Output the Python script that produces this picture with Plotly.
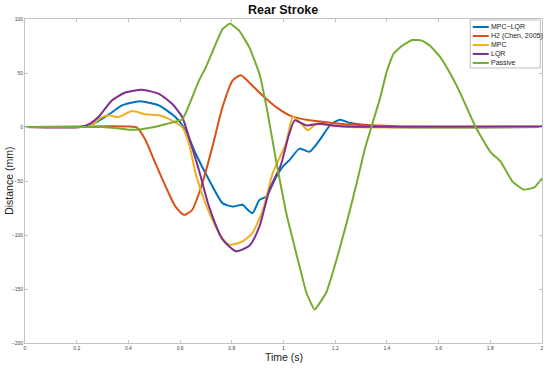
import plotly.graph_objects as go

# ---- data ----
t_mpclqr = [0, 0.2, 0.24, 0.28, 0.323, 0.375, 0.42, 0.453, 0.518, 0.582, 0.621, 0.66, 0.712, 0.764,
            0.803, 0.842, 0.855, 0.88, 0.907, 0.933, 0.972, 1.0, 1.023, 1.062, 1.10, 1.14, 1.18, 1.218,
            1.257, 1.31, 1.4, 2.0]
v_mpclqr = [0, 0, 0.5, 5, 11.4, 20, 23, 23.7, 20, 9.2, -3, -24.5, -49, -70.5,
            -73.7, -72, -75, -79.7, -67.5, -64.5, -46, -36, -30.7, -20, -23, -12, 1.5, 6.8,
            3.7, 2, 0, 0]

t_h2 = [0, 0.4, 0.433, 0.466, 0.505, 0.544, 0.582, 0.615, 0.647, 0.686, 0.725, 0.764, 0.803, 0.835,
        0.868, 0.92, 0.972, 1.023, 1.10, 1.18, 1.257, 1.335, 1.45, 2.0]
v_h2 = [0, 0.5, -0.5, -12, -34, -55, -73.7, -81.3, -76.7, -52, -18.4, 18.4, 43, 48,
        41, 29, 18.4, 10.8, 6.2, 4, 2.2, 1.5, 0.5, 0.3]

t_mpc = [0, 0.22, 0.26, 0.29, 0.323, 0.362, 0.414, 0.466, 0.518, 0.569, 0.608, 0.634, 0.66, 0.7,
         0.725, 0.76, 0.79, 0.842, 0.88, 0.92, 0.958, 1.01, 1.036, 1.065, 1.095, 1.127, 1.18, 1.25, 2.0]
v_mpc = [0, 0, 2, 8, 10.8, 9.2, 14.7, 11.7, 10.8, 6, 0, -15, -43, -72,
         -86, -102, -109, -106, -98, -77, -43, -15, 9.2, 4, -3, 3, 1.5, 0, 0]

t_lqr = [0, 0.213, 0.25, 0.284, 0.336, 0.388, 0.453, 0.518, 0.569, 0.608, 0.634, 0.673, 0.712, 0.764,
         0.816, 0.868, 0.907, 0.946, 0.99, 1.02, 1.043, 1.065, 1.088, 1.14, 1.19, 1.25, 2.0]
v_lqr = [0, 0, 3, 9.2, 24.6, 32, 34.4, 30.7, 21.5, 9.2, -9.2, -40, -73.7, -104,
         -115, -110, -92, -58, -35, -8, 6.2, 4, 1.5, 3, 1.5, 0.5, 0.5]

t_passive = [0, 0.3, 0.35, 0.4, 0.45, 0.5, 0.55, 0.608, 0.621, 0.647, 0.673, 0.699, 0.738, 0.764,
             0.793, 0.829, 0.868, 0.907, 0.939, 0.971, 1.01, 1.062, 1.088, 1.12, 1.166, 1.205, 1.244,
             1.283, 1.315, 1.35, 1.374, 1.40, 1.425, 1.458, 1.497, 1.536, 1.568, 1.607, 1.646, 1.685,
             1.743, 1.80, 1.84, 1.886, 1.929, 1.97, 2.0]
v_passive = [0, 0, -1, -2.5, -2, 0, 3, 7, 12.6, 27.6, 43, 55, 77, 90.6,
             95.8, 89, 73.7, 49, 12.6, -30.7, -79, -129, -153, -169, -153, -123, -89,
             -52, -20, 8, 27, 52, 67.6, 75, 80.5, 80, 75, 64.5, 49, 30.7,
             0, -23, -32, -50.6, -58, -56, -47.5]

x_ticks = [0, 0.2, 0.4, 0.6, 0.8, 1, 1.2, 1.4, 1.6, 1.8, 2]
y_ticks = [-200, -150, -100, -50, 0, 50, 100]

series_names = ["MPC−LQR", "H2 (Chen, 2005)", "MPC", "LQR", "Passive"]
series_t = [t_mpclqr, t_h2, t_mpc, t_lqr, t_passive]
series_v = [v_mpclqr, v_h2, v_mpc, v_lqr, v_passive]
series_colors = ["#0072BD", "#D95319", "#EDB120", "#7E2F8E", "#77AC30"]
series_smooth = [0.6, 0.6, 0.6, 0.6, 0.35]

# ---- page geometry (pixels); body margin is removed by a post script ----
W, H = 550, 368
L, T = 25, 19
R = W - 541.7
B = H - 343.3
pw, ph = W - L - R, H - T - B


def px_x(xw):
    return (xw - L) / pw


def px_y(yw):
    return (H - B - yw) / ph


fig = go.Figure()
for name, t, v, c, s in zip(series_names, series_t, series_v, series_colors, series_smooth):
    fig.add_trace(go.Scatter(x=t, y=v, mode="lines", name=name, showlegend=False,
                             line=dict(color=c, width=2, shape="spline", smoothing=s)))

axis_common = dict(showgrid=False, zeroline=False, showline=True, linecolor="#c4c4c4", linewidth=1,
                   mirror="allticks", ticks="inside", ticklen=3, tickcolor="#c4c4c4",
                   tickfont=dict(size=5, color="#444444"), automargin=False)

# ---- legend drawn as a box, sample lines and labels (MATLAB style) ----
shapes = [dict(type="rect", xref="paper", yref="paper",
               x0=px_x(470), x1=px_x(540), y0=px_y(68), y1=px_y(20),
               line=dict(color="#bdbdbd", width=1), fillcolor="white", layer="above")]
annotations = []
for i, (name, c) in enumerate(zip(series_names, series_colors)):
    yy = px_y(27 + 9 * i)
    shapes.append(dict(type="line", xref="paper", yref="paper",
                       x0=px_x(472.5), x1=px_x(488.5), y0=yy, y1=yy,
                       line=dict(color=c, width=2), layer="above"))
    annotations.append(dict(text=name, xref="paper", yref="paper", x=px_x(489), y=yy,
                            xanchor="left", yanchor="middle", showarrow=False,
                            font=dict(size=7, color="#222222")))

# axis titles
annotations.append(dict(text="Time (s)", xref="paper", yref="paper", x=px_x(284), y=px_y(357),
                        xanchor="center", yanchor="middle", showarrow=False,
                        font=dict(size=10.5, color="#222222")))
annotations.append(dict(text="Distance (mm)", xref="paper", yref="paper", x=px_x(9), y=px_y(181),
                        xanchor="center", yanchor="middle", textangle=-90, showarrow=False,
                        font=dict(size=10.5, color="#222222")))
# title
annotations.append(dict(text="<b>Rear Stroke</b>", xref="paper", yref="paper", x=px_x(283), y=px_y(10),
                        xanchor="center", yanchor="middle", showarrow=False,
                        font=dict(size=12.5, color="#111111")))

fig.update_layout(
    width=W, height=H,
    margin=dict(l=L, r=R, t=T, b=B),
    paper_bgcolor="white", plot_bgcolor="white",
    font=dict(family="Liberation Sans, Arial, sans-serif", color="#222222"),
    xaxis=dict(range=[0, 2], tickvals=x_ticks, ticktext=[str(v) for v in x_ticks], **axis_common),
    yaxis=dict(range=[-200, 100], tickvals=y_ticks, **axis_common),
    shapes=shapes, annotations=annotations,
    showlegend=False,
)

fig.write_html("out.html", config={"displayModeBar": False},
               post_script="document.body.style.margin='0px';document.body.style.overflow='hidden';")
